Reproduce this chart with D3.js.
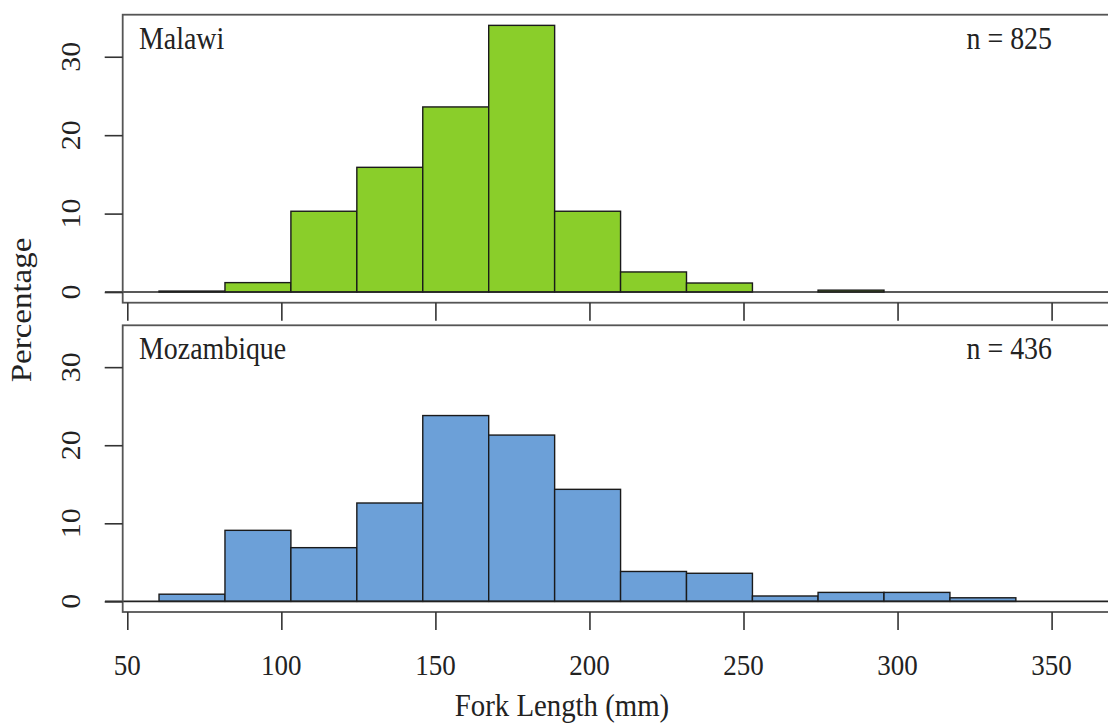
<!DOCTYPE html>
<html>
<head>
<meta charset="utf-8">
<script src="https://cdn.jsdelivr.net/npm/d3@7"></script>
<style>
  body { margin: 0; background: #fff; }
  svg { display: block; }
  text { font-family: "Liberation Serif", "DejaVu Serif", serif; fill: #222; }
</style>
</head>
<body>
<div id="chart"></div>
<script>
var W = 1108, H = 724;

// bin edges (mm)
var breaks = [60.3, 81.7, 103.1, 124.5, 145.9, 167.3, 188.7, 210.1, 231.5, 252.9, 274.2, 295.6, 317.0, 338.4];

// percentage in each bin
var malawiPct = [0.12, 1.2, 10.3, 15.9, 23.6, 34.0, 10.3, 2.56, 1.15, 0, 0.24, 0, 0];
var mozPct    = [0.92, 9.1, 6.88, 12.6, 23.8, 21.3, 14.35, 3.83, 3.6, 0.69, 1.15, 1.15, 0.46];

var panelNames = ["Malawi", "Mozambique"];
var panelN     = ["n = 825", "n = 436"];
var panelColor = ["#8ace2a", "#6ca0d8"];

var xTicks = [50, 100, 150, 200, 250, 300, 350, 400];
var xLabels = [50, 100, 150, 200, 250, 300, 350];
var yTicks = [0, 10, 20, 30];

var svg = d3.select("#chart").append("svg")
  .attr("width", W)
  .attr("height", H);

var x = d3.scaleLinear().domain([50, 350]).range([127.3, 1051.6]);

// box edges of each panel (top, bottom)
var boxes = [[14.7, 302.7], [325.3, 612]];
var boxLeft = 122.7, boxRight = 1116;

var series = [malawiPct, mozPct];

series.forEach(function(vals, p) {
  var top = boxes[p][0], bot = boxes[p][1];
  var y = d3.scaleLinear().domain([-1.36, 35.36]).range([bot, top]);

  var bins = vals.map(function(v, i) {
    return { x0: breaks[i], x1: breaks[i + 1], v: v };
  }).filter(function(d) { return d.v > 0; });

  var g = svg.append("g");

  g.selectAll("rect")
    .data(bins)
    .enter()
    .append("rect")
    .attr("x", function(d) { return x(d.x0); })
    .attr("y", function(d) { return y(d.v); })
    .attr("width", function(d) { return x(d.x1) - x(d.x0); })
    .attr("height", function(d) { return y(0) - y(d.v); })
    .attr("fill", panelColor[p])
    .attr("stroke", "#1a1a1a")
    .attr("stroke-width", 1.4);

  // zero line
  g.append("line")
    .attr("x1", 105).attr("x2", W)
    .attr("y1", y(0)).attr("y2", y(0))
    .attr("stroke", "#222")
    .attr("stroke-width", 1.6);

  // box
  g.append("rect")
    .attr("x", boxLeft).attr("y", top)
    .attr("width", boxRight - boxLeft).attr("height", bot - top)
    .attr("fill", "none")
    .attr("stroke", "#555")
    .attr("stroke-width", 1.8);

  // y ticks
  var yAxis = g.append("g")
    .attr("transform", "translate(" + boxLeft + ",0)")
    .call(d3.axisLeft(y).tickValues(yTicks).tickSize(18).tickFormat(""));
  yAxis.select(".domain").remove();
  yAxis.selectAll(".tick line").attr("stroke", "#333").attr("stroke-width", 1.6);

  g.selectAll(".ylab")
    .data(yTicks)
    .enter()
    .append("text")
    .attr("class", "ylab")
    .attr("transform", function(d) {
      return "translate(80," + y(d) + ") scale(0.9,1) rotate(-90)";
    })
    .attr("text-anchor", "middle")
    .attr("font-size", "30px")
    .text(function(d) { return d; });

  // x ticks under each panel
  var xAxis = g.append("g")
    .attr("transform", "translate(0," + bot + ")")
    .call(d3.axisBottom(x).tickValues(xTicks).tickSize(18).tickFormat(""));
  xAxis.select(".domain").remove();
  xAxis.selectAll(".tick line").attr("stroke", "#333").attr("stroke-width", 1.6);

  // panel labels
  g.append("text")
    .attr("transform", "translate(139," + (top + 34) + ") scale(0.9,1)")
    .attr("font-size", "31px")
    .text(panelNames[p]);

  g.append("text")
    .attr("transform", "translate(1052," + (top + 34) + ") scale(0.9,1)")
    .attr("text-anchor", "end")
    .attr("font-size", "31px")
    .text(panelN[p]);
});

// x tick labels (bottom panel only)
svg.selectAll(".xlab")
  .data(xLabels)
  .enter()
  .append("text")
  .attr("class", "xlab")
  .attr("transform", function(d) { return "translate(" + x(d) + ",675) scale(0.9,1)"; })
  .attr("text-anchor", "middle")
  .attr("font-size", "30px")
  .text(function(d) { return d; });

svg.append("text")
  .attr("transform", "translate(562,716) scale(0.9,1)")
  .attr("text-anchor", "middle")
  .attr("font-size", "32px")
  .text("Fork Length (mm)");

svg.append("text")
  .attr("transform", "translate(31,310) scale(0.9,1) rotate(-90)")
  .attr("text-anchor", "middle")
  .attr("font-size", "33px")
  .text("Percentage");
</script>
</body>
</html>
